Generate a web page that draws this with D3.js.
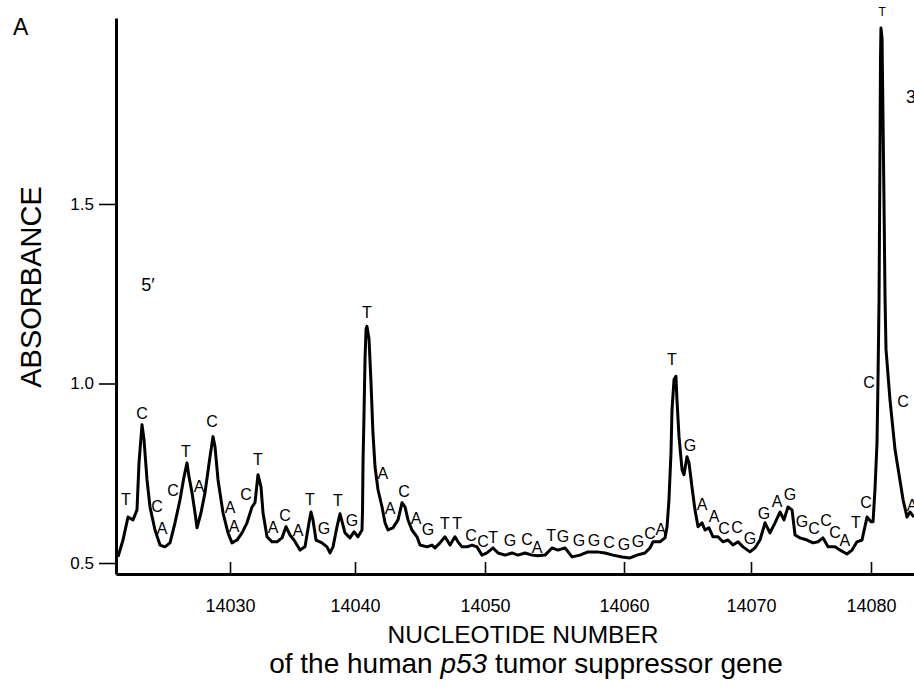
<!DOCTYPE html>
<html>
<head>
<meta charset="utf-8">
<script src="https://cdn.jsdelivr.net/npm/d3@7"></script>
<style>
  body { margin: 0; background: #fff; }
  svg { font-family: 'Liberation Sans', Arial, Helvetica, sans-serif; }
</style>
</head>
<body>
<svg id="chart" width="914" height="689"></svg>
<script>
// nucleotide positions
const tracePos = [
  14021.04, 14021.44, 14021.84, 14022.24, 14022.56, 14022.72, 14022.96, 14023.12, 14023.36, 14023.6,
  14024.0, 14024.4, 14024.8, 14025.2, 14025.6, 14026.0, 14026.32, 14026.56, 14026.72, 14026.96,
  14027.2, 14027.36, 14027.68, 14028.0, 14028.4, 14028.64, 14028.8, 14029.04, 14029.44, 14029.84,
  14030.16, 14030.56, 14030.96, 14031.36, 14031.76, 14032.0, 14032.24, 14032.48, 14032.64, 14032.96,
  14033.36, 14033.76, 14034.16, 14034.48, 14034.8, 14035.12, 14035.6, 14036.0, 14036.32, 14036.48,
  14036.64, 14036.88, 14037.36, 14037.76, 14038.0, 14038.24, 14038.56, 14038.8, 14039.2, 14039.6,
  14039.92, 14040.23, 14040.54, 14040.58, 14040.62, 14040.69, 14040.77, 14040.85, 14040.92, 14041.08,
  14041.23, 14041.38, 14041.54, 14041.77, 14042.08, 14042.31, 14042.54, 14042.92, 14043.31, 14043.62,
  14043.85, 14044.08, 14044.38, 14044.77, 14045.0, 14045.54, 14045.92, 14046.15, 14046.54, 14046.92,
  14047.31, 14047.69, 14047.92, 14048.23, 14048.62, 14049.0, 14049.38, 14049.77, 14050.14, 14050.58,
  14050.94, 14051.44, 14051.94, 14052.37, 14052.88, 14053.38, 14053.81, 14054.32, 14054.82, 14055.25,
  14055.76, 14056.26, 14056.83, 14057.41, 14058.06, 14058.63, 14059.21, 14059.86, 14060.47, 14061.02,
  14061.65, 14062.05, 14062.28, 14062.83, 14063.23, 14063.39, 14063.54, 14063.70, 14063.78, 14063.94,
  14064.09, 14064.17, 14064.33, 14064.57, 14064.72, 14064.96, 14065.12, 14065.35, 14065.59, 14065.83,
  14066.14, 14066.38, 14066.69, 14067.01, 14067.40, 14067.80, 14068.19, 14068.58, 14068.98, 14069.37,
  14069.92, 14070.33, 14070.75, 14071.17, 14071.58, 14072.0, 14072.42, 14072.75, 14073.08, 14073.42,
  14073.67, 14074.08, 14074.67, 14075.17, 14075.58, 14076.0, 14076.42, 14077.0, 14077.42, 14078.0,
  14078.42, 14078.83, 14079.25, 14079.67, 14080.0, 14080.17, 14080.33, 14080.5, 14080.58, 14080.67,
  14080.75, 14080.79, 14080.83, 14080.92, 14081.0, 14081.08, 14081.17, 14081.25, 14081.58, 14082.0,
  14082.67, 14083.0, 14083.25, 14083.58
];

// absorbance at those positions
const traceAbs = [
  0.517, 0.564, 0.628, 0.620, 0.648, 0.779, 0.885, 0.844, 0.732, 0.656,
  0.592, 0.550, 0.545, 0.556, 0.612, 0.676, 0.740, 0.779, 0.740, 0.696,
  0.640, 0.598, 0.640, 0.696, 0.796, 0.852, 0.824, 0.732, 0.640, 0.584,
  0.556, 0.564, 0.584, 0.612, 0.656, 0.668, 0.746, 0.712, 0.640, 0.573,
  0.559, 0.559, 0.570, 0.601, 0.578, 0.564, 0.536, 0.545, 0.612, 0.642,
  0.620, 0.564, 0.556, 0.545, 0.528, 0.545, 0.601, 0.637, 0.584, 0.570,
  0.587, 0.573, 0.592, 0.648, 0.788, 0.908, 1.067, 1.151, 1.159, 1.123,
  1.003, 0.863, 0.768, 0.704, 0.656, 0.612, 0.592, 0.598, 0.620, 0.668,
  0.656, 0.620, 0.592, 0.573, 0.550, 0.545, 0.550, 0.542, 0.556, 0.573,
  0.550, 0.573, 0.559, 0.545, 0.545, 0.550, 0.545, 0.522, 0.528, 0.542,
  0.528, 0.522, 0.528, 0.522, 0.528, 0.522, 0.520, 0.522, 0.542, 0.536,
  0.542, 0.517, 0.522, 0.531, 0.531, 0.528, 0.522, 0.517, 0.514, 0.522,
  0.528, 0.542, 0.559, 0.559, 0.570, 0.601, 0.676, 0.807, 0.927, 1.011,
  1.020, 0.955, 0.852, 0.760, 0.746, 0.796, 0.779, 0.712, 0.648, 0.601,
  0.612, 0.592, 0.598, 0.573, 0.573, 0.559, 0.564, 0.550, 0.559, 0.545,
  0.531, 0.542, 0.564, 0.612, 0.584, 0.612, 0.642, 0.620, 0.656, 0.648,
  0.578, 0.570, 0.564, 0.556, 0.559, 0.570, 0.545, 0.545, 0.536, 0.525,
  0.536, 0.559, 0.564, 0.628, 0.615, 0.615, 0.704, 0.835, 1.003, 1.235,
  1.654, 1.905, 1.990, 1.961, 1.737, 1.514, 1.235, 1.095, 0.955, 0.816,
  0.676, 0.628, 0.642, 0.628
];

// base letters written over the trace
const baseLetters = [
  'T','C','C','A','C','T','A','C','A','A','C','T','A','C','A','T','G','T','G',
  'T','A','A','C','A','G','T','T','C','C','T','G','C','A','T','G','G','G','C','G',
  'G','C','A','T','G','A','A','C','C','G','G','A','G','G','C','C','C','A','T','C',
  'C','C','A'
];
const basePos = [
  14021.68, 14022.96, 14024.16, 14024.56, 14025.44, 14026.48, 14027.52, 14028.56, 14030.0, 14030.32,
  14031.28, 14032.24, 14033.44, 14034.4, 14035.44, 14036.4, 14037.52, 14038.64, 14039.76,
  14040.92, 14042.15, 14042.69, 14043.77, 14044.69, 14045.62, 14046.92, 14047.85, 14048.92, 14049.85,
  14050.58, 14051.80, 14053.02, 14053.74, 14054.75, 14055.61, 14056.76, 14057.84, 14058.92, 14060.0,
  14061.10, 14062.05, 14062.91, 14063.78, 14065.20, 14066.14, 14067.09, 14067.87, 14068.90, 14069.92,
  14071.08, 14072.17, 14073.25, 14074.25, 14075.25, 14076.25, 14077.0, 14077.83, 14078.75, 14079.58,
  14079.83, 14082.67, 14083.42
];
const baseAbs = [
  0.678, 0.918, 0.659, 0.597, 0.703, 0.812, 0.714, 0.896, 0.656, 0.603,
  0.692, 0.790, 0.600, 0.634, 0.592, 0.678, 0.597, 0.675, 0.620,
  1.199, 0.751, 0.653, 0.701, 0.625, 0.595, 0.611, 0.611, 0.578, 0.561,
  0.572, 0.564, 0.567, 0.545, 0.578, 0.575, 0.564, 0.564, 0.558, 0.553,
  0.561, 0.584, 0.595, 1.068, 0.829, 0.664, 0.631, 0.597, 0.600, 0.570,
  0.639, 0.673, 0.692, 0.617, 0.597, 0.620, 0.586, 0.564, 0.614, 0.670,
  1.004, 0.951, 0.662
];
// the big 3' peak letter, drawn smaller
const topLetter = { base: 'T', pos: 14080.92, abs: 2.035 };

const xTicks = [14030, 14040, 14050, 14060, 14070, 14080];
const yTicks = [0.5, 1.0, 1.5];

const trace = tracePos.map((p, i) => ({ pos: p, abs: traceAbs[i] }));
const bases = baseLetters.map((b, i) => ({ base: b, pos: basePos[i], abs: baseAbs[i] }));

const svg = d3.select('#chart');
const W = 914, H = 689;

// scanned figure: tick spacing is not perfectly even, so piecewise scale
const x = d3.scaleLinear()
  .domain([14020.88, 14030, 14040, 14050, 14060, 14070, 14080, 14083.58])
  .range([116, 230, 355, 485, 624, 751, 871, 914]);

const y = d3.scaleLinear()
  .domain([0.4694, 2.018])
  .range([574, 18]);

svg.append('rect').attr('width', W).attr('height', H).attr('fill', '#fff');

// axes
const xAxis = svg.append('g')
  .attr('transform', `translate(0,${y.range()[0]})`)
  .call(d3.axisBottom(x).tickValues(xTicks).tickSize(-12).tickSizeOuter(0).tickPadding(25).tickFormat(d3.format('d')));
xAxis.select('.domain').attr('stroke-width', 3);
xAxis.selectAll('.tick line').attr('stroke-width', 1.6);
xAxis.selectAll('.tick text')
  .style('font-size', '18px')
  .attr('fill', '#000');

const yAxis = svg.append('g')
  .attr('transform', `translate(${x.range()[0]},0)`)
  .call(d3.axisLeft(y).tickValues(yTicks).tickSize(17).tickSizeOuter(0).tickPadding(5).tickFormat(d3.format('.1f')));
yAxis.select('.domain').attr('stroke-width', 3);
yAxis.selectAll('.tick line').attr('stroke-width', 1.6);
yAxis.selectAll('.tick text')
  .style('font-size', '17px')
  .attr('fill', '#000');

// trace
const line = d3.line()
  .x((d) => x(d.pos))
  .y((d) => y(d.abs));

svg.append('path')
  .datum(trace)
  .attr('d', line)
  .attr('fill', 'none')
  .attr('stroke', '#000')
  .attr('stroke-width', 3)
  .attr('stroke-linejoin', 'round');

// base letters
svg.append('g')
  .selectAll('text')
  .data(bases)
  .enter()
  .append('text')
  .attr('x', (d) => x(d.pos))
  .attr('y', (d) => y(d.abs))
  .attr('dy', '0.36em')
  .attr('text-anchor', 'middle')
  .attr('fill', '#000')
  .style('font-size', '16px')
  .text((d) => d.base);

svg.append('text')
  .attr('x', x(topLetter.pos))
  .attr('y', y(topLetter.abs))
  .attr('dy', '0.36em')
  .attr('text-anchor', 'middle')
  .attr('fill', '#000')
  .style('font-size', '12px')
  .text(topLetter.base);

// strand ends
svg.append('text')
  .attr('x', x(14023.44))
  .attr('y', y(1.277))
  .attr('dy', '0.36em')
  .attr('text-anchor', 'middle')
  .style('font-size', '18px')
  .text('5\u2032');

svg.append('text')
  .attr('x', x(14082.92))
  .attr('y', y(1.798))
  .attr('dy', '0.36em')
  .style('font-size', '18px')
  .text('3\u2032');

// titles
svg.append('text')
  .attr('x', 13)
  .attr('y', 35)
  .style('font-size', '23px')
  .text('A');

svg.append('text')
  .attr('transform', 'translate(41,287) rotate(-90)')
  .attr('text-anchor', 'middle')
  .style('font-size', '29px')
  .text('ABSORBANCE');

svg.append('text')
  .attr('x', 523)
  .attr('y', 643)
  .attr('text-anchor', 'middle')
  .style('font-size', '24.5px')
  .text('NUCLEOTIDE NUMBER');

const sub = svg.append('text')
  .attr('x', 526)
  .attr('y', 673)
  .attr('text-anchor', 'middle')
  .style('font-size', '28px');
sub.append('tspan').text('of the human ');
sub.append('tspan').style('font-style', 'italic').text('p53');
sub.append('tspan').text(' tumor suppressor gene');
</script>
</body>
</html>
